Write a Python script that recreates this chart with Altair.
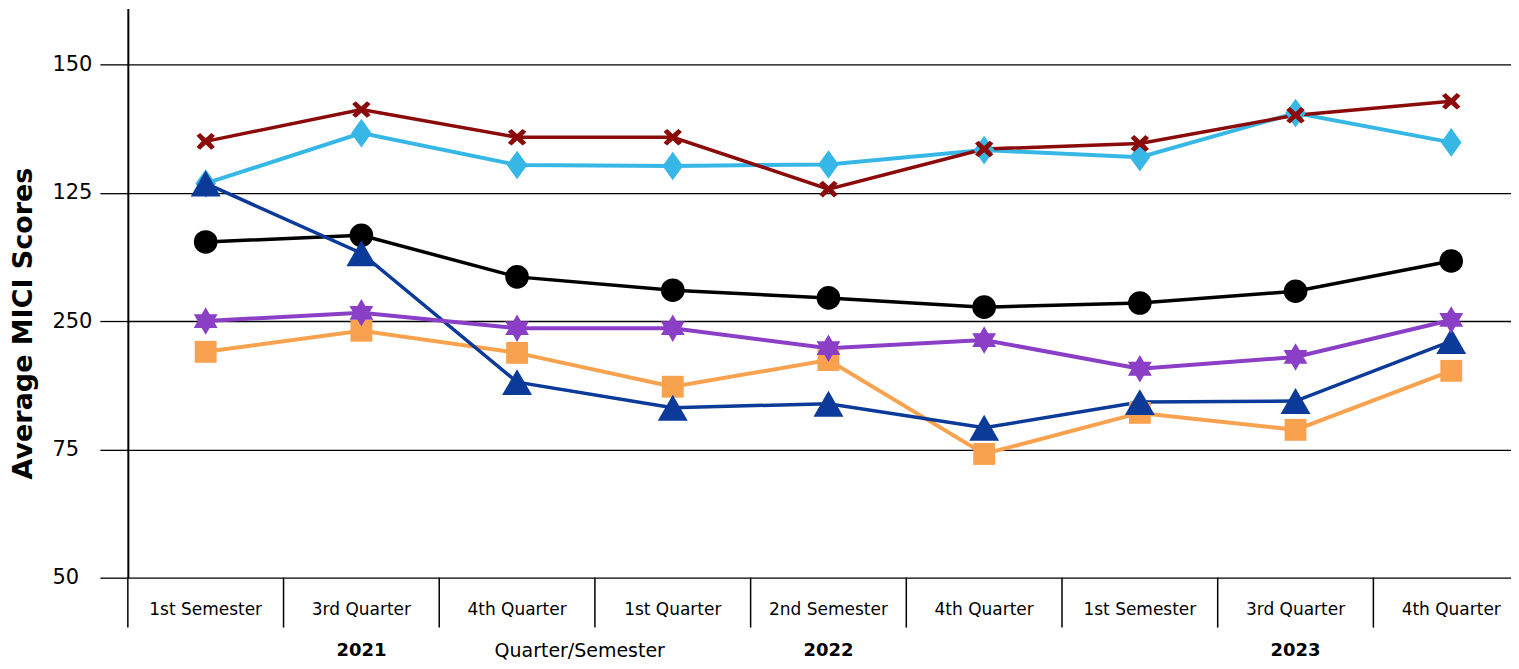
import altair as alt
import pandas as pd

categories = ["1st Semester", "3rd Quarter", "4th Quarter", "1st Quarter", "2nd Semester",
              "4th Quarter", "1st Semester", "3rd Quarter", "4th Quarter"]
years = ["2021", "2022", "2023"]
year_category = [1, 4, 7]  # category index under which each year label sits

black_circle = [115.4, 116.7, 108.6, 106.0, 104.5, 102.7, 103.5, 105.8, 111.7]
orange_square = [94.0, 98.1, 93.8, 87.2, 92.4, 74.1, 82.1, 78.8, 90.3]
blue_diamond = [126.8, 136.6, 130.4, 130.2, 130.5, 133.3, 131.9, 140.5, 134.8]
red_cross = [135.0, 141.2, 135.8, 135.8, 125.7, 133.5, 134.6, 140.1, 142.8]
navy_triangle = [126.8, 113.2, 88.1, 83.1, 83.9, 79.2, 84.2, 84.4, 96.1]
purple_star = [100.0, 101.6, 98.6, 98.6, 94.7, 96.3, 90.7, 93.0, 100.2]

y_ticks = [50, 75, 100, 125, 150]

FONT = "DejaVu Sans"
W, H = 1385, 570
PX_PER_CAT = 155.9

X_PATH = ("M-1,-0.6 L-0.6,-0.9 L0,-0.34 L0.6,-0.9 L1,-0.6 L0.44,0 L1,0.6 "
          "L0.6,0.9 L0,0.34 L-0.6,0.9 L-1,0.6 L-0.44,0 Z")
DIAMOND_PATH = "M0,-1 L0.72,0 L0,1 L-0.72,0 Z"
STAR_PATH = ("M0,-1 L0.289,-0.5 L0.866,-0.5 L0.577,0 L0.866,0.5 L0.289,0.5 L0,1 "
             "L-0.289,0.5 L-0.866,0.5 L-0.577,0 L-0.866,-0.5 L-0.289,-0.5 Z")

series_style = [
    (black_circle, "#000000", "circle", 560, 3.5),
    (orange_square, "#F8A24F", "square", 480, 4),
    (blue_diamond, "#37B7E6", DIAMOND_PATH, 820, 4),
    (red_cross, "#8B0A0A", X_PATH, 340, 3.5),
    (navy_triangle, "#0B3A98", "triangle-up", 900, 3.5),
    (purple_star, "#8A3FC6", STAR_PATH, 760, 4),
]

x_scale = alt.Scale(domain=[-0.5, -0.5 + W / PX_PER_CAT], nice=False, zero=False)
y_scale = alt.Scale(domain=[50, 50 + H / 5.14], nice=False, zero=False)

x_enc = alt.X(
    "idx:Q", scale=x_scale,
    axis=alt.Axis(title="Quarter/Semester", labels=False, ticks=False, domain=False, grid=False,
                  titleX=452, titleY=73, titleFontSize=19, titleFontWeight="normal",
                  titleFont=FONT, titleColor="black", titleBaseline="middle", titleAlign="center"),
)
y_enc = alt.Y(
    "value:Q", scale=y_scale,
    axis=alt.Axis(values=y_ticks, labelExpr="datum.value == 100 ? '250' : datum.label",
                  grid=True, gridColor="black", gridWidth=1.3, gridOpacity=1,
                  tickSize=28, tickColor="black", tickWidth=1.3,
                  domainColor="black", domainWidth=2,
                  labelAlign="left", labelBaseline="middle", labelPadding=48,
                  labelFontSize=21, labelColor="black", labelFont=FONT,
                  title="Average MICI Scores", titleFontSize=27, titleFontWeight="bold",
                  titleFont=FONT, titleColor="black", titleX=-104, titleY=315,
                  titleBaseline="middle", titleAlign="center"),
)

layers = []
for i, (vals, color, shape, size, sw) in enumerate(series_style):
    df = pd.DataFrame({"idx": list(range(len(categories))), "value": vals})
    base = alt.Chart(df)
    enc_x = x_enc if i == 0 else alt.X("idx:Q", scale=x_scale)
    enc_y = y_enc if i == 0 else alt.Y("value:Q", scale=y_scale)
    layers.append(base.mark_line(color=color, strokeWidth=sw).encode(x=enc_x, y=enc_y))
for vals, color, shape, size, sw in series_style:
    df = pd.DataFrame({"idx": list(range(len(categories))), "value": vals})
    layers.append(
        alt.Chart(df).mark_point(shape=shape, size=size, filled=True, color=color, opacity=1)
        .encode(x=alt.X("idx:Q", scale=x_scale), y=alt.Y("value:Q", scale=y_scale))
    )

sep_df = pd.DataFrame({"b": [k - 0.5 for k in range(len(categories))]})
seps = alt.Chart(sep_df).mark_rule(color="black", strokeWidth=1.5).encode(
    x=alt.X("b:Q", scale=x_scale), y=alt.value(H), y2=alt.value(H + 50)
)

cat_df = pd.DataFrame({"idx": list(range(len(categories))), "label": categories})
cat_text = alt.Chart(cat_df).mark_text(font=FONT, fontSize=17, color="black", baseline="middle").encode(
    x=alt.X("idx:Q", scale=x_scale), y=alt.value(H + 32), text="label:N"
)

year_df = pd.DataFrame({"idx": year_category, "label": years})
year_text = alt.Chart(year_df).mark_text(font=FONT, fontSize=18, fontWeight="bold", color="black",
                                         baseline="middle").encode(
    x=alt.X("idx:Q", scale=x_scale), y=alt.value(H + 73), text="label:N"
)

chart = alt.layer(*layers, seps, cat_text, year_text).properties(
    width=W, height=H,
    autosize=alt.AutoSizeParams(type="none"),
    padding={"left": 120, "top": 0, "right": 0, "bottom": 82},
).configure(font=FONT).configure_view(stroke=None)

chart.save("out.html", embed_options={"renderer": "svg", "actions": False})
